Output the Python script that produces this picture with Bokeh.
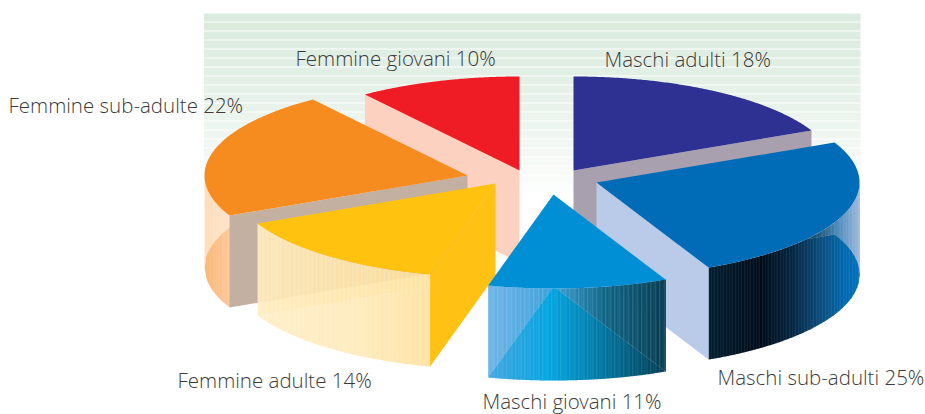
import numpy as np
from bokeh.plotting import figure
from bokeh.models import Range1d
from bokeh.core.properties import value
from bokeh.embed import file_html
from bokeh.resources import INLINE

# ---- data
categories = ["Maschi adulti", "Maschi sub-adulti", "Maschi giovani",
              "Femmine adulte", "Femmine sub-adulte", "Femmine giovani"]
shares = [18, 25, 11, 14, 22, 10]

# ---- layout and style
W, H = 925, 414
RX, RY, DEPTH = 263.0, 94.0, 92.0
apex_x = [573, 596, 553, 495, 467, 519]
apex_y = [170, 182, 194, 183, 175, 170]
top_colors = ["#2E3192", "#006CB7", "#008FD5", "#FFC20E", "#F68B1F", "#EF1C25"]
face_colors = ["#A8A0AE", "#B9CBE9", None, "#FFC114", "#C3B0A0", "#FDD1C0"]
rim_alpha = [1, 1, 1, 0.9, 1, 1]
stripe = [0, 0.04, 0.10, 0.16, 0.05, 0]
upper_stops = [
    None,
    [(0, "#01202F"), (.5, "#06141F"), (.7, "#164A66"), (.85, "#4A88B8"), (1, "#9DB9DE")],
    [(0, "#6DB4E7"), (.35, "#3FA2DB"), (.65, "#0F6687"), (1, "#063B50")],
    [(0, "#FFEBBB"), (1, "#FFE09A")],
    [(0, "#FEDCBB"), (1, "#FFE3C9")],
    None,
]
disc_stops = [
    None,
    [(0, "#021E30"), (.35, "#000C1A"), (.55, "#04253F"), (.75, "#0A4F80"), (.9, "#0068AE"), (1, "#0070BB")],
    [(0, "#45A6E2"), (.35, "#00A4E0"), (.7, "#006C94"), (1, "#003C52")],
    [(0, "#FFEDC4"), (.6, "#FFE9B8"), (1, "#FFE09A")],
    [(0, "#FAB877"), (1, "#FCC79A")],
    None,
]
label_text = [f"{c} {v}%" for c, v in zip(categories, shares)]
label_x = [604, 717, 482, 177, 8, 295]
label_y = [58, 376, 400, 379, 104, 57]
draw_order = [5, 0, 4, 1, 3, 2]
TEXT_COLOR = "#3A3A3A"
FONT = "Open Sans Light"
FONT_SIZE = "20.5px"


def hex_rgb(c):
    return np.array([int(c[i:i + 2], 16) for i in (1, 3, 5)], float)


def rgb_hex(a):
    return "#%02X%02X%02X" % tuple(int(round(float(v))) for v in np.clip(a, 0, 255))


def ramp(stops, f):
    xs = [s[0] for s in stops]
    cs = np.array([hex_rgb(s[1]) for s in stops])
    return np.array([np.interp(f, xs, cs[:, k]) for k in range(3)])


def pt(cx, cy, ang):
    return cx + RX * np.sin(ang), cy - RY * np.cos(ang)


def vertical_span(poly_x, poly_y, x):
    hits = []
    n = len(poly_x)
    for i in range(n):
        x0, y0, x1, y1 = poly_x[i], poly_y[i], poly_x[(i + 1) % n], poly_y[(i + 1) % n]
        if (x0 <= x < x1) or (x1 <= x < x0):
            hits.append(y0 + (x - x0) / (x1 - x0) * (y1 - y0))
    return (min(hits), max(hits)) if hits else None


p = figure(width=W, height=H, output_backend="svg", toolbar_location=None,
           x_range=Range1d(0, W), y_range=Range1d(H, 0),
           min_border=0, min_border_left=0, min_border_right=0,
           min_border_top=0, min_border_bottom=0, outline_line_color=None,
           background_fill_color="white", border_fill_color="white")
p.axis.visible = False
p.grid.visible = False

# striped backdrop
bg_top, bg_bot = hex_rgb("#DCEBDF"), hex_rgb("#FFFFFF")
BG_L, BG_R, BG_T, BG_B, BG_STEP = 203.5, 860, 13, 194, 9
ys = np.arange(BG_T, BG_B, BG_STEP)
p.quad(left=BG_L, right=BG_R, top=ys, bottom=ys + BG_STEP - 1,
       fill_color=[rgb_hex(bg_top + (bg_bot - bg_top) * ((y - BG_T) / (BG_B - BG_T)) ** 1.4) for y in ys],
       line_color=None)

# slices
angles = np.cumsum([0] + shares) / sum(shares) * 2 * np.pi
for idx in draw_order:
    a0, a1 = angles[idx], angles[idx + 1]
    cx, cy = apex_x[idx], apex_y[idx]

    # rim, in vertical strips
    lo, hi = max(a0, np.pi / 2), min(a1, 3 * np.pi / 2)
    if hi > lo and upper_stops[idx]:
        xa = cx + RX * np.sin(hi)
        xb = cx + RX * np.sin(lo)
        edges = np.arange(xa, xb + 1.5, 1.5)
        edges[-1] = xb
        arc = lambda x: cy + RY * np.sqrt(max(0, 1 - ((x - cx) / RX) ** 2))
        t = np.linspace(a0, a1, 160)
        bx = [cx] + list(cx + RX * np.sin(t))
        by = [cy + DEPTH] + list(cy + DEPTH - RY * np.cos(t))
        xs_, ys_, col = [], [], []
        for i in range(len(edges) - 1):
            x0, x1 = edges[i], edges[i + 1]
            f = (0.5 * (x0 + x1) - xa) / (xb - xa)
            s = stripe[idx] if i % 3 == 0 else 0
            yt0, yt1 = arc(x0), arc(x1)
            sp0 = vertical_span(bx, by, x0 + 1e-3)
            sp1 = vertical_span(bx, by, x1 - 1e-3)
            d0 = max(yt0, sp0[0]) if sp0 else yt0 + DEPTH
            d1 = max(yt1, sp1[0]) if sp1 else yt1 + DEPTH
            d0, d1 = min(d0, yt0 + DEPTH), min(d1, yt1 + DEPTH)
            u = ramp(upper_stops[idx], f)
            v = ramp(disc_stops[idx], f)
            xs_.append([x0, x1 + .4, x1 + .4, x0]); ys_.append([yt0, yt1, d1, d0])
            col.append(rgb_hex(u + (255 - u) * s))
            xs_.append([x0, x1 + .4, x1 + .4, x0]); ys_.append([d0, d1, yt1 + DEPTH, yt0 + DEPTH])
            col.append(rgb_hex(v + (255 - v) * s * .6))
        p.patches(xs_, ys_, fill_color=col, fill_alpha=rim_alpha[idx], line_color=None)

    # visible cut face
    if face_colors[idx]:
        edge = a1 if a1 < np.pi else a0
        ex, ey = pt(cx, cy, edge)
        p.patch([cx, ex, ex, cx], [cy, ey, ey + DEPTH, cy + DEPTH],
                fill_color=face_colors[idx], line_color=None)

    # top
    t = np.linspace(a0, a1, 160)
    p.patch([cx] + list(cx + RX * np.sin(t)), [cy] + list(cy - RY * np.cos(t)),
            fill_color=top_colors[idx], line_color=None)

p.text(x=label_x, y=label_y, text=label_text, text_font=value(FONT),
       text_font_size=FONT_SIZE, text_color=TEXT_COLOR,
       text_baseline="middle", text_align="left")

open("out.html", "w").write(file_html(p, INLINE))
